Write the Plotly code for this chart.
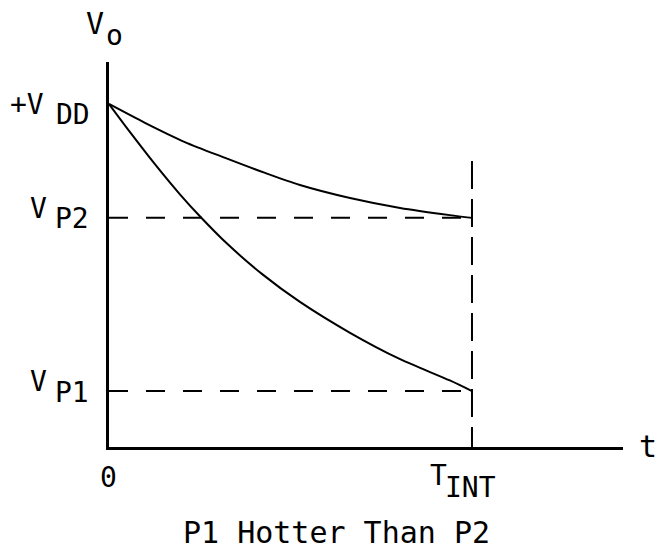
import plotly.graph_objects as go

# ---- data (normalised: V_DD = 1, T_INT = 1) ----
V_DD = 1.0
V_P2 = 0.668
V_P1 = 0.163
T_INT = 1.0

t_p2 = [0, 0.099, 0.209, 0.320, 0.430, 0.526, 0.664, 0.802, 0.939, 1.0]
v_p2 = [1.0, 0.945, 0.889, 0.843, 0.799, 0.764, 0.726, 0.697, 0.676, 0.668]

t_p1 = [0, 0.058, 0.127, 0.196, 0.251, 0.325, 0.422, 0.526, 0.664, 0.802, 0.939, 1.0]
v_p1 = [1.0, 0.918, 0.824, 0.736, 0.672, 0.593, 0.504, 0.423, 0.333, 0.256, 0.194, 0.163]

X_MAX = 1.416
Y_MAX = 1.1224
TINT_LINE_TOP = 0.834

W, H = 656, 549
L, R, T, B = 109, 33, 62, 102
PW = W - L - R
PH = H - T - B

FONT = "DejaVu Sans Mono"
BLACK = "#000000"


def px2paper(px):
    return (px - L) / PW


def py2paper(py):
    return (H - B - py) / PH


fig = go.Figure()

# dashed guide lines
fig.add_trace(go.Scatter(x=[0, T_INT], y=[V_P2, V_P2], mode="lines",
                         line=dict(color=BLACK, width=2, dash="19px,18px"),
                         hoverinfo="skip", showlegend=False))
fig.add_trace(go.Scatter(x=[0, T_INT], y=[V_P1, V_P1], mode="lines",
                         line=dict(color=BLACK, width=2, dash="19px,18px"),
                         hoverinfo="skip", showlegend=False))
fig.add_trace(go.Scatter(x=[T_INT, T_INT], y=[TINT_LINE_TOP, 0], mode="lines",
                         line=dict(color=BLACK, width=2, dash="28px,10px"),
                         hoverinfo="skip", showlegend=False))

# curves
fig.add_trace(go.Scatter(x=t_p2, y=v_p2, mode="lines",
                         line=dict(color=BLACK, width=2, shape="spline", smoothing=0.8),
                         showlegend=False))
fig.add_trace(go.Scatter(x=t_p1, y=v_p1, mode="lines",
                         line=dict(color=BLACK, width=2, shape="spline", smoothing=0.8),
                         showlegend=False))

annotations = []


def txt(text, px, py, size, xanchor="left"):
    # px: left edge (or centre), py: cap-centre in pixels
    annotations.append(dict(text=text, x=px2paper(px), y=py2paper(py),
                            xref="paper", yref="paper",
                            xanchor=xanchor, yanchor="middle", showarrow=False,
                            font=dict(family=FONT, size=size, color=BLACK)))


S = 28
# y labels
txt("+V", 8, 104, S)
txt("DD", 54, 114, S)
txt("V", 28, 208, S)
txt("P2", 53, 218, S)
txt("V", 28, 381, S)
txt("P1", 53, 392, S)
# axis titles
txt("V", 84, 24, 30)
txt("o", 104, 36, S)
txt("t", 637, 446, 30)
# x labels
txt("0", 98, 477, S)
txt("T", 428, 476, S)
txt("INT", 443, 487, S)
# caption
txt("P1 Hotter Than P2", 336, 532, 30, xanchor="center")

fig.update_layout(
    width=W, height=H,
    margin=dict(l=L, r=R, t=T, b=B),
    paper_bgcolor="white", plot_bgcolor="white",
    xaxis=dict(range=[0, X_MAX], showline=True, linecolor=BLACK, linewidth=2.5,
               showgrid=False, zeroline=False, showticklabels=False, ticks=""),
    yaxis=dict(range=[0, Y_MAX], showline=True, linecolor=BLACK, linewidth=2.5,
               showgrid=False, zeroline=False, showticklabels=False, ticks=""),
    annotations=annotations,
    showlegend=False,
)

fig.write_html("out.html", config={"displayModeBar": False})
